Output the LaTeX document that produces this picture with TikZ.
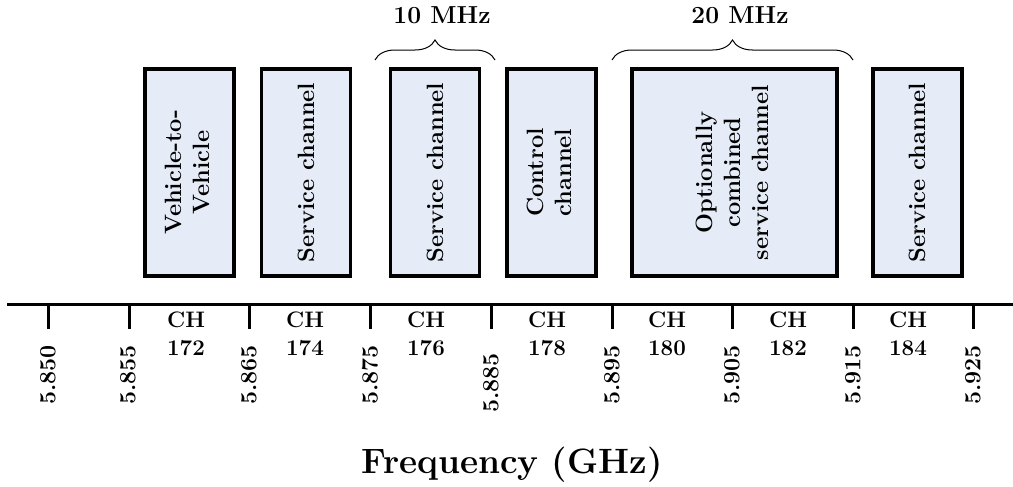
\documentclass[tikz,border=0pt]{standalone}
\usetikzlibrary{decorations.pathreplacing}
\definecolor{chanfill}{HTML}{E5ECF7}
\begin{document}
\begin{tikzpicture}[x=0.5pt,y=-0.5pt,
  chanbox/.style={draw=black, line width=1.6pt, fill=chanfill, inner sep=0pt,
    minimum width=44.5pt, minimum height=103.5pt,
    font=\fontsize{11.8}{14}\selectfont\bfseries},
  ticklab/.style={rotate=90, anchor=west, inner sep=0pt,
    font=\fontsize{11.6}{14}\selectfont\bfseries},
  chlab/.style={align=center, inner sep=0pt,
    font=\fontsize{11.2}{14}\selectfont\bfseries},
  bwlab/.style={inner sep=0pt, font=\fontsize{12.3}{14}\selectfont\bfseries},
  bracedeco/.style={decorate, decoration={brace, amplitude=10pt}, line width=0.5pt},
  axisline/.style={line width=1.5pt},
  tickline/.style={line width=1.5pt}]
\useasboundingbox (0,0) rectangle (1013,487);

% frequency axis and tick marks
\coordinate (axL) at (7,304);
\coordinate (axR) at (1013,304);
\draw[axisline] (axL) -- (axR);
\foreach \name/\x in {t850/48, t855/129, t865/249, t875/370, t885/491,
                      t895/612, t905/732, t915/853, t925/973}{
  \coordinate (\name) at (\x,304);
  \draw[tickline] (\name) -- ++(0,25);
}

% tick labels (read bottom to top)
\node[ticklab] (l850) at (48,405)  {5.850};
\node[ticklab] (l855) at (128,405) {5.855};
\node[ticklab] (l865) at (249,405) {5.865};
\node[ticklab] (l875) at (370,405) {5.875};
\node[ticklab] (l885) at (491,413) {5.885};
\node[ticklab] (l895) at (612,405) {5.895};
\node[ticklab] (l905) at (732,405) {5.905};
\node[ticklab] (l915) at (853,405) {5.915};
\node[ticklab] (l925) at (973,405) {5.925};

% channel numbers
\node[chlab] (ch172) at (186,334) {CH\\172};
\node[chlab] (ch174) at (305,334) {CH\\174};
\node[chlab] (ch176) at (426,334) {CH\\176};
\node[chlab] (ch178) at (547,334) {CH\\178};
\node[chlab] (ch180) at (667,334) {CH\\180};
\node[chlab] (ch182) at (788,334) {CH\\182};
\node[chlab] (ch184) at (908,334) {CH\\184};

% channel blocks
\node[chanbox] (b172) at (189.5,172.5)
  {\rotatebox{90}{\begin{tabular}{@{}c@{}}Vehicle-to-\\Vehicle\end{tabular}}};
\node[chanbox] (b174) at (306,172.5) {\rotatebox{90}{Service channel}};
\node[chanbox] (b176) at (435,172.5) {\rotatebox{90}{Service channel}};
\node[chanbox] (b178) at (551.5,172.5)
  {\rotatebox{90}{\begin{tabular}{@{}c@{}}Control\\channel\end{tabular}}};
\node[chanbox, minimum width=102.5pt] (b180) at (734.5,172.5)
  {\rotatebox{90}{\begin{tabular}{@{}c@{}}Optionally\\combined\\service channel\end{tabular}}};
\node[chanbox] (b184) at (917.5,172.5) {\rotatebox{90}{Service channel}};

% bandwidth braces
\coordinate (br10a) at (375,60);
\coordinate (br10b) at (495,60);
\coordinate (br20a) at (612,60);
\coordinate (br20b) at (853,60);
\draw[bracedeco] (br10a) -- (br10b);
\draw[bracedeco] (br20a) -- (br20b);
\node[bwlab] (bw10) at (442,15) {10 MHz};
\node[bwlab] (bw20) at (740,15) {20 MHz};

% axis title
\node[inner sep=0pt, font=\fontsize{17.6}{20}\selectfont\bfseries] (xtitle) at (512,465)
  {Frequency (GHz)};
\end{tikzpicture}
\end{document}
